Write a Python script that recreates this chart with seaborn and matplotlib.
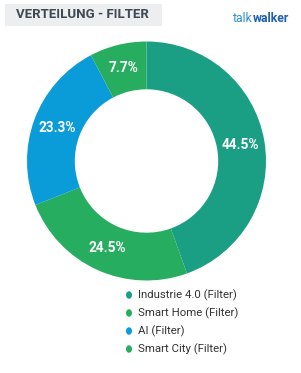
import matplotlib
matplotlib.use("Agg")
import matplotlib.pyplot as plt
import seaborn as sns
import numpy as np
from matplotlib.patches import Rectangle

sns.set_theme(style="white")
plt.rcParams['font.family'] = ['Roboto', 'DejaVu Sans']

categories = ["Industrie 4.0 (Filter)", "Smart Home (Filter)", "AI (Filter)", "Smart City (Filter)"]
values = [44.5, 24.5, 23.3, 7.7]
labels = ["44.5%", "24.5%", "23.3%", "7.7%"]
colors = ["#1a9f84", "#27ad5f", "#0a9bd9", "#27ad5f"]
title = "VERTEILUNG - FILTER"

W, H = 301, 373
fig = plt.figure(figsize=(W / 100, H / 100), dpi=100)
fig.patch.set_facecolor("white")

# title box
fig.patches.append(Rectangle((5 / W, 1 - 26 / H), 157 / W, 22 / H, transform=fig.transFigure,
                             facecolor="#eceef0", edgecolor="none", zorder=0))
fig.text(16 / W, 1 - 15 / H, title, fontsize=9.5, fontweight="bold", color="#3f4a55",
         va="center", ha="left")
# logo
t1 = fig.text(233 / W, 1 - 18 / H, "talk", fontsize=8.8, color="#2a8fd4", va="center", ha="left")
fig.canvas.draw()
bb = t1.get_window_extent()
fig.text(bb.x1 / W, 1 - 18 / H, "walker", fontsize=8.8, color="#1f5fae", va="center", ha="left",
         fontweight="bold")

# donut
cx, cy, R = 146.5, 161, 119.5
ax = fig.add_axes([(cx - R) / W, 1 - (cy + R) / H, 2 * R / W, 2 * R / H])
wedges, _ = ax.pie(values, colors=colors, startangle=90, counterclock=False,
                   wedgeprops=dict(width=0.4, edgecolor="none", linewidth=0), radius=1)
for w, lab in zip(wedges, labels):
    ang = np.deg2rad((w.theta1 + w.theta2) / 2)
    r = 0.8
    ax.text(r * np.cos(ang), r * np.sin(ang), lab, ha="center", va="center", color="white",
            fontsize=9.8, fontweight="bold")
ax.set_xlim(-1, 1)
ax.set_ylim(-1, 1)
ax.set_aspect("equal")
ax.axis("off")

# legend
ys = [295, 313, 331, 349]
for c, name, y in zip(colors, categories, ys):
    fig.patches.append(plt.Circle((129 / W, 1 - y / H), 0.01, transform=fig.transFigure,
                                  facecolor=c, edgecolor="none"))
    fig.text(138 / W, 1 - y / H, name, fontsize=8.2, color="#333333", va="center", ha="left")

fig.savefig("out.png", dpi=100)
